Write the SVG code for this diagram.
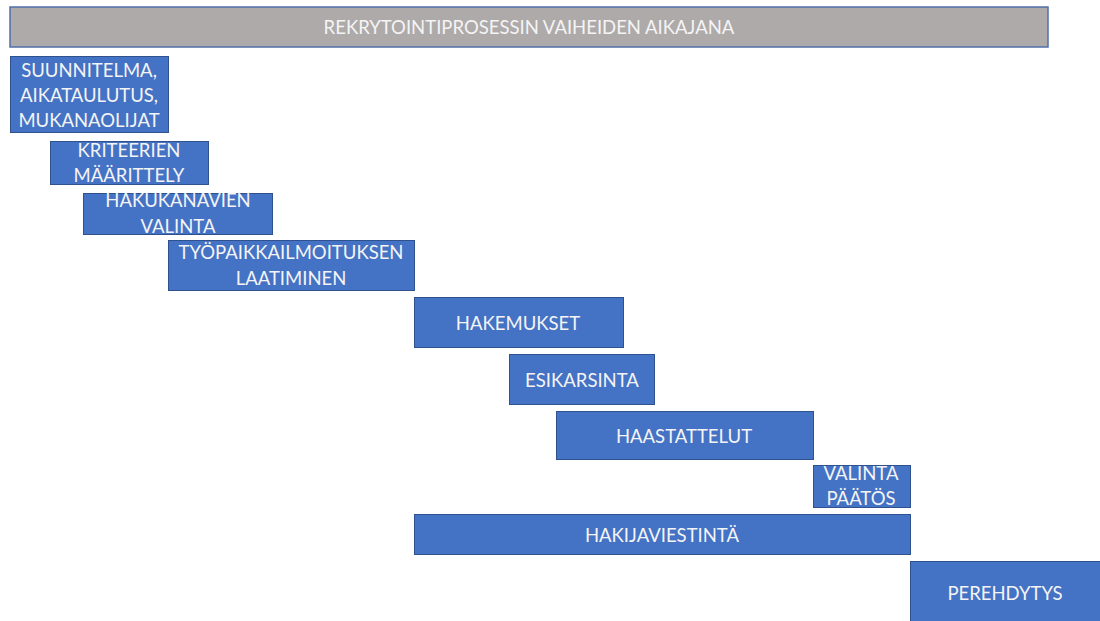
<svg xmlns="http://www.w3.org/2000/svg" width="1100" height="621" viewBox="0 0 1100 621">
  <style>
    .bar { fill: #4472c4; stroke: #2f528f; stroke-width: 1; }
    .head { fill: #aeaaaa; stroke: #4f6fa8; stroke-width: 1.5; }
    text { font-family: Lato, "Liberation Sans", sans-serif; font-size: 18.5px; fill: #f4f4f4; text-anchor: middle; dominant-baseline: central; }
  </style>
  <rect width="1100" height="621" fill="#ffffff"/>

  <g id="title">
    <rect class="head" x="10" y="7" width="1038" height="40"/>
    <text x="529" y="27">REKRYTOINTIPROSESSIN VAIHEIDEN AIKAJANA</text>
  </g>

  <g id="suunnitelma">
    <rect class="bar" x="10.5" y="56.5" width="158" height="76"/>
    <text x="89" y="70">SUUNNITELMA,</text>
    <text x="89" y="95">AIKATAULUTUS,</text>
    <text x="89" y="120">MUKANAOLIJAT</text>
  </g>

  <g id="kriteerien">
    <rect class="bar" x="50.5" y="141.5" width="158" height="43"/>
    <text x="129" y="150">KRITEERIEN</text>
    <text x="129" y="175">MÄÄRITTELY</text>
  </g>

  <g id="hakukanavien">
    <rect class="bar" x="83.5" y="193.5" width="189" height="41"/>
    <text x="178" y="200">HAKUKANAVIEN</text>
    <text x="178" y="226">VALINTA</text>
  </g>

  <g id="tyopaikkailmoitus">
    <rect class="bar" x="168.5" y="240.5" width="246" height="50"/>
    <text x="291" y="252">TYÖPAIKKAILMOITUKSEN</text>
    <text x="291" y="278">LAATIMINEN</text>
  </g>

  <g id="hakemukset">
    <rect class="bar" x="414.5" y="297.5" width="209" height="50"/>
    <text x="518" y="323">HAKEMUKSET</text>
  </g>

  <g id="esikarsinta">
    <rect class="bar" x="509.5" y="354.5" width="145" height="50"/>
    <text x="582" y="380">ESIKARSINTA</text>
  </g>

  <g id="haastattelut">
    <rect class="bar" x="556.5" y="411.5" width="257" height="48"/>
    <text x="684" y="436">HAASTATTELUT</text>
  </g>

  <g id="valintapaatos">
    <rect class="bar" x="813.5" y="465.5" width="97" height="42"/>
    <text x="861" y="473">VALINTA</text>
    <text x="861" y="498">PÄÄTÖS</text>
  </g>

  <g id="hakijaviestinta">
    <rect class="bar" x="414.5" y="514.5" width="496" height="40"/>
    <text x="662" y="535">HAKIJAVIESTINTÄ</text>
  </g>

  <g id="perehdytys">
    <rect class="bar" x="910.5" y="561.5" width="190" height="60"/>
    <text x="1005" y="593">PEREHDYTYS</text>
  </g>

  <g id="connectors"/>
</svg>
